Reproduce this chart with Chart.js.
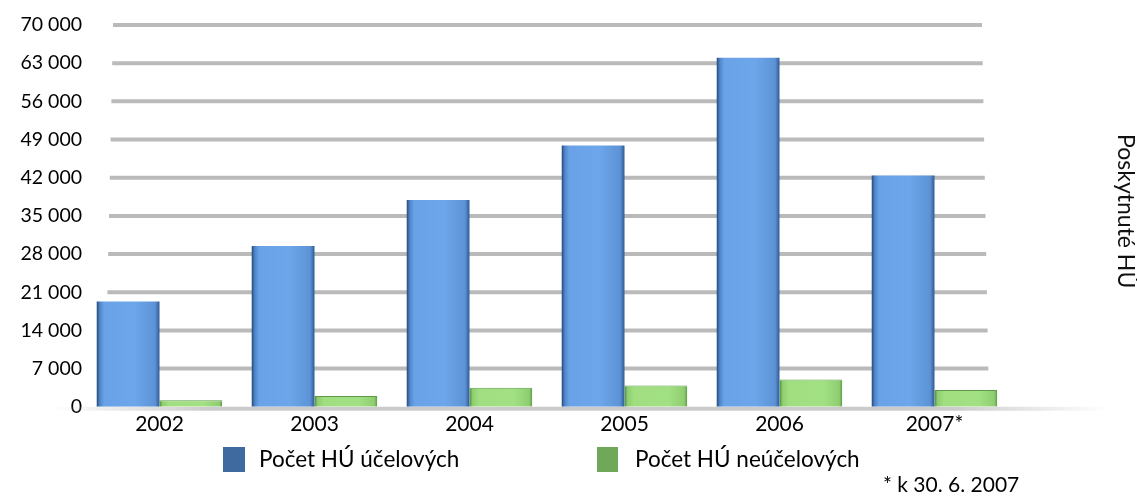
<!DOCTYPE html>
<html>
<head>
<meta charset="utf-8">
<script src="https://cdn.jsdelivr.net/npm/chart.js@4"></script>
<style>
  html, body { margin: 0; padding: 0; background: #fff; }
  #wrap { position: relative; width: 1137px; height: 496px; font-family: Lato, sans-serif; color: #000; }
  .key { position: absolute; top: 447px; width: 22px; height: 25px; }
  .txt { position: absolute; font-size: 22.5px; line-height: 28px; white-space: nowrap; }
  #side { position: absolute; left: 1113px; top: 134px; writing-mode: vertical-rl; font-size: 23px; color: #111; }
  #note { position: absolute; left: 883px; top: 472px; font-size: 21px; line-height: 24px; }
</style>
</head>
<body>
<div id="wrap">
  <canvas id="chart" width="1137" height="496"></canvas>
  <div class="key" style="left:223px;background:#3e6aa0"></div>
  <div class="txt" style="left:259px;top:445px">Počet HÚ účelových</div>
  <div class="key" style="left:597px;width:21px;background:#70a85a"></div>
  <div class="txt" style="left:635px;top:445px">Počet HÚ neúčelových</div>
  <div id="note">* k 30. 6. 2007</div>
  <div id="side">Poskytnuté HÚ</div>
</div>
<script>
const years = ['2002', '2003', '2004', '2005', '2006', '2007*'];
const ucelove = [19300, 29500, 37900, 47900, 64000, 42400];
const neucelove = [1200, 2000, 3500, 3900, 5000, 3100];
const yTicks = [0, 7000, 14000, 21000, 28000, 35000, 42000, 49000, 56000, 63000, 70000];
const yTickLabels = ['0', '7 000', '14 000', '21 000', '28 000', '35 000', '42 000', '49 000', '56 000', '63 000', '70 000'];

const groupShare = 0.81;

// horizontal gradient across one bar, to mimic the 3D look
function barFill(c, stops, fallback) {
  const chart = c.chart;
  const xs = chart.scales.x;
  if (!xs || !chart.chartArea || c.dataIndex === undefined) return fallback;
  const center = xs.getPixelForValue(c.dataIndex);
  const w = (xs.width / years.length) * groupShare / 2;
  const left = c.datasetIndex === 0 ? center - w : center;
  const g = chart.ctx.createLinearGradient(left, 0, left + w, 0);
  stops.forEach(s => g.addColorStop(s[0], s[1]));
  return g;
}

const blueStops = [[0, '#24497a'], [0.05, '#4f86c9'], [0.12, '#69a2e6'], [0.6, '#6da6ea'], [0.93, '#5c93d6'], [1, '#2f5b92']];
const greenStops = [[0, '#4f8a3a'], [0.05, '#8fcf70'], [0.15, '#a0de80'], [0.7, '#a2e084'], [0.95, '#8fce70'], [1, '#5f9a48']];

// thick grey grid lines drawn behind the bars, slightly widening downwards
const gridPlugin = {
  id: 'grid3d',
  beforeDatasetsDraw(chart) {
    const ys = chart.scales.y;
    const ctx = chart.ctx;
    ctx.save();
    yTicks.forEach(v => {
      const y = ys.getPixelForValue(v);
      const k = 1 - v / 70000;
      if (v === 0) {
        const g = ctx.createLinearGradient(50, 0, 1110, 0);
        g.addColorStop(0, 'rgba(200,200,200,0)');
        g.addColorStop(0.15, 'rgba(190,190,190,0.8)');
        g.addColorStop(0.85, 'rgba(190,190,190,0.8)');
        g.addColorStop(1, 'rgba(200,200,200,0)');
        ctx.strokeStyle = g;
        ctx.lineWidth = 4;
        ctx.beginPath();
        ctx.moveTo(50, y + 2);
        ctx.lineTo(1110, y + 2);
        ctx.stroke();
        return;
      }
      ctx.strokeStyle = '#bababa';
      ctx.lineWidth = 4;
      ctx.beginPath();
      ctx.moveTo(113 - k * 8, y);
      ctx.lineTo(982 + k * 7, y);
      ctx.stroke();
    });
    ctx.restore();
  }
};

new Chart(document.getElementById('chart'), {
  type: 'bar',
  data: {
    labels: years,
    datasets: [
      {
        label: 'Počet HÚ účelových',
        data: ucelove,
        backgroundColor: c => barFill(c, blueStops, '#6aa2e6'),
        categoryPercentage: groupShare,
        barPercentage: 1
      },
      {
        label: 'Počet HÚ neúčelových',
        data: neucelove,
        backgroundColor: c => barFill(c, greenStops, '#a3e086'),
        borderColor: '#5f9a48',
        borderWidth: { top: 1, left: 0, right: 0, bottom: 0 },
        categoryPercentage: groupShare,
        barPercentage: 1
      }
    ]
  },
  options: {
    responsive: false,
    animation: false,
    layout: { padding: { left: 0, right: 125, top: 25, bottom: 54 } },
    plugins: { legend: { display: false }, tooltip: { enabled: false } },
    scales: {
      x: {
        grid: { display: false, drawTicks: false },
        border: { display: false },
        ticks: { color: '#000', font: { family: 'Lato', size: 21 }, padding: 5 }
      },
      y: {
        min: 0,
        max: 70000,
        afterFit: s => { s.width = 82; },
        afterBuildTicks: s => { s.ticks = yTicks.map(v => ({ value: v })); },
        grid: { display: false, drawTicks: false },
        border: { display: false },
        ticks: {
          color: '#000',
          font: { family: 'Lato', size: 19.5 },
          padding: 0,
          callback: (v, i) => yTickLabels[i]
        }
      }
    }
  },
  plugins: [gridPlugin]
});
</script>
</body>
</html>
